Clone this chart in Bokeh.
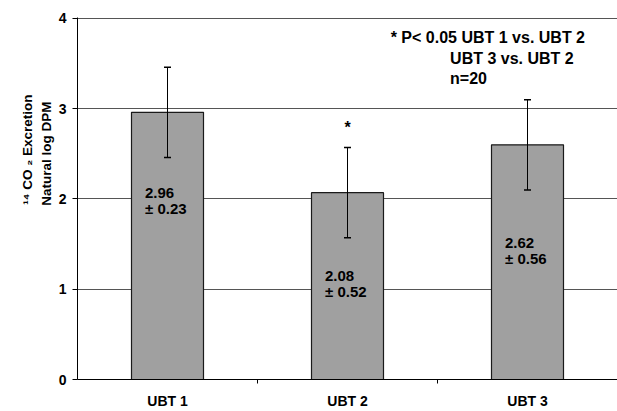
import numpy as np
from bokeh.plotting import figure
from bokeh.models import (ColumnDataSource, Range1d, FixedTicker, Whisker, TeeHead, Label, Title)
from bokeh.core.properties import value
from bokeh.embed import file_html
from bokeh.resources import INLINE

# ---- data ----
categories = ["UBT 1", "UBT 2", "UBT 3"]
means = [2.96, 2.07, 2.60]
errors = [0.50, 0.50, 0.50]
mean_labels = ["2.96", "2.08", "2.62"]
sd_labels = ["± 0.23", "± 0.52", "± 0.56"]
y_ticks = [0, 1, 2, 3, 4]
note_lines = ["* P< 0.05 UBT 1 vs. UBT 2", "UBT 3 vs. UBT 2", "n=20"]
y_title_lines = ["¹⁴ CO ₂ Excretion", "Natural log DPM"]

FONT = "Liberation Sans"

x = np.arange(len(categories)) + 0.5
means_a = np.array(means)
err_a = np.array(errors)
label_y = [1.98, 1.06, 1.43]  # anchor of in-bar value labels (layout)

src = ColumnDataSource(dict(
    x=x, top=means_a, upper=means_a + err_a, lower=means_a - err_a,
    txt=[m + "\n" + s for m, s in zip(mean_labels, sd_labels)],
    tx=x - 0.125, ty=label_y,
))

p = figure(width=617, height=411, output_backend="svg", toolbar_location=None,
           x_range=Range1d(0, 3), y_range=Range1d(0, 4.01),
           min_border_left=77, min_border_right=0, min_border_top=17, min_border_bottom=27)
p.outline_line_color = None
p.background_fill_color = "white"
p.border_fill_color = "white"

# bars
p.vbar(x="x", top="top", width=0.4, bottom=0, source=src,
       fill_color="#a0a0a0", line_color="#1a1a1a", line_width=1.2)

# error bars
wh = Whisker(base="x", upper="upper", lower="lower", source=src, level="overlay",
             line_color="black", line_width=1,
             upper_head=TeeHead(size=7, line_color="black", line_width=1.5),
             lower_head=TeeHead(size=7, line_color="black", line_width=1.5))
p.add_layout(wh)

# in-bar value labels
p.text(x="tx", y="ty", text="txt", source=src, text_font=value(FONT),
       text_font_style="bold", text_font_size="15px", text_align="left",
       text_baseline="middle", text_line_height=0.95, text_color="black")

# significance star above UBT 2
p.text(x=[x[1]], y=[means_a[1] + err_a[1] + 0.22], text=["*"], text_font=value(FONT),
       text_font_style="bold", text_font_size="16px", text_align="center",
       text_baseline="middle", text_color="black")

# note in upper right
for txt, lx, ly in zip(note_lines, [1.74, 2.07, 2.07], [3.79, 3.56, 3.33]):
    p.add_layout(Label(x=lx, y=ly, text=txt, text_font=FONT,
                       text_font_style="bold", text_font_size="16px",
                       text_baseline="middle", text_align="left", text_color="black"))

# y axis title (two lines) as side titles, placed in the upper part like the original
p.add_layout(Title(text=y_title_lines[1], align="right", offset=84, standoff=3,
                   text_font=FONT, text_font_style="bold", text_font_size="13.5px",
                   text_color="black"), "left")
p.add_layout(Title(text=y_title_lines[0], align="right", offset=77, standoff=1,
                   text_font=FONT, text_font_style="bold", text_font_size="13.5px",
                   text_color="black"), "left")

# grid
p.xgrid.grid_line_color = None
p.ygrid.grid_line_color = "#555555"
p.ygrid.grid_line_width = 1
p.ygrid.ticker = FixedTicker(ticks=y_ticks)

# y axis
p.yaxis.ticker = FixedTicker(ticks=y_ticks)
p.yaxis.minor_tick_line_color = None
p.yaxis.major_tick_out = 5
p.yaxis.major_tick_in = 0
p.yaxis.axis_line_color = "black"
p.yaxis.major_tick_line_color = "black"
p.yaxis.major_label_text_font = FONT
p.yaxis.major_label_text_font_style = "bold"
p.yaxis.major_label_text_font_size = "14px"
p.yaxis.major_label_text_color = "black"
p.yaxis.major_label_standoff = 6

# x axis
p.xaxis.ticker = FixedTicker(ticks=list(x), minor_ticks=list(np.arange(1, len(categories))))
p.xaxis.major_label_overrides = {float(v): c for v, c in zip(x, categories)}
p.xaxis.major_tick_line_color = None
p.xaxis.major_tick_out = 0
p.xaxis.minor_tick_out = 4
p.xaxis.minor_tick_in = 0
p.xaxis.minor_tick_line_color = "black"
p.xaxis.axis_line_color = "black"
p.xaxis.major_label_text_font = FONT
p.xaxis.major_label_text_font_style = "bold"
p.xaxis.major_label_text_font_size = "14px"
p.xaxis.major_label_text_color = "black"
p.xaxis.major_label_standoff = 9

open("out.html", "w").write(file_html(p, INLINE))
